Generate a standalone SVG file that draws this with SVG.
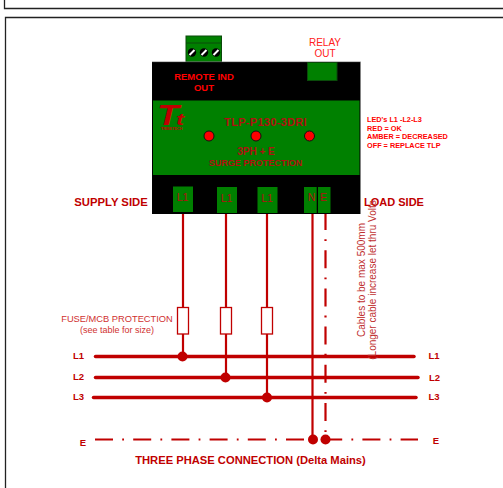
<svg xmlns="http://www.w3.org/2000/svg" width="503" height="488" viewBox="0 0 503 488">
<style>
text{font-family:"Liberation Sans",Arial,sans-serif;fill:#c00000;text-anchor:middle}
.b{font-weight:bold}
.g{fill:#008000}
.gs{fill:#008000;stroke:#0a4a0a;stroke-width:1}
.bus{stroke:#c00000;stroke-width:3.500;stroke-linecap:round;fill:none}
.w{stroke:#c00000;stroke-width:2.200;fill:none}
.dd{stroke:#c00000;stroke-width:2.200;fill:none;stroke-dasharray:18 9.200 1.800 9.200}
.fuse{fill:#fff;stroke:#c00000;stroke-width:1.300}
.dot{fill:#c00000}
.led{fill:#ff0000;stroke:#111;stroke-width:1}
.t{font-size:10.500px;fill:#b01010}
.screw{fill:#000}
</style>
<g id="frames" fill="none" stroke="#222" stroke-width="1.300">
<path d="M4.500 0V8.500H503"/>
<path d="M5.500 488V17.500H503"/>
</g>
<g id="connectors">
<path class="w" d="M183 212V356M226 213V378M267 213V397M312.500 213V439"/>
<path class="dd" d="M325.500 212V439"/>
<path class="bus" d="M95.500 356.500H414"/>
<path class="bus" d="M95.500 377.500H418"/>
<path class="bus" d="M93.500 397.500H416"/>
<path class="dd" d="M95 439.500H418"/>
</g>
<g id="relay-connector">
<rect class="gs" x="186" y="36" width="35.500" height="26"/>
<path d="M186 43H221.500" stroke="#0a4a0a" stroke-width="1"/>
<g class="screw">
<circle cx="192" cy="52.500" r="4.200"/><circle cx="204" cy="52.500" r="4.200"/><circle cx="216" cy="52.500" r="4.200"/>
</g>
<path d="M189.500 55L194.500 50M201.500 55L206.500 50M213.500 55L218.500 50" stroke="#fff" stroke-width="2"/>
</g>
<g id="device">
<rect x="152" y="62" width="208.500" height="152" fill="#000"/>
<path d="M152 61.700H360.500V214" fill="none" stroke="#888" stroke-width=".6"/>
<rect class="g" x="153" y="100.500" width="206.500" height="74.500"/>
<rect class="gs" x="307.500" y="62.500" width="29.500" height="18"/>
<text x="204" y="80" font-size="9.500" style="fill:#ff0000" class="b">REMOTE IND</text>
<text x="204" y="91" font-size="9.500" style="fill:#ff0000" class="b">OUT</text>
</g>
<g id="logo">
<text x="157" y="125" font-size="29" class="b" font-style="italic" textLength="22" lengthAdjust="spacingAndGlyphs" style="text-anchor:start">T</text>
<text x="176" y="125" font-size="17" class="b" font-style="italic" textLength="8" lengthAdjust="spacingAndGlyphs" style="text-anchor:start">t</text>
<text x="171.500" y="129.500" font-size="3.800" class="b">TRIBETECH</text>
</g>
<g id="leds">
<circle class="led" cx="209" cy="136" r="5"/><circle class="led" cx="256" cy="136" r="5"/><circle class="led" cx="309.500" cy="136" r="5"/>
</g>
<g id="device-labels">
<text x="265.500" y="126" font-size="11" class="b" style="fill:#b01010" letter-spacing=".3">TLP-P130-3DRI</text>
<text x="256" y="155" font-size="10" class="b" style="fill:#b01010">3PH + E</text>
<text x="255.500" y="166" font-size="9" class="b" style="fill:#b01010">SURGE PROTECTION</text>
</g>
<g id="terminals">
<g id="term-l1"><rect class="g" x="173" y="186.500" width="20" height="25.500"/><text class="t" x="182.500" y="201">L1</text></g>
<g id="term-l2"><rect class="g" x="217" y="187" width="20" height="26"/><text class="t" x="226.500" y="202">L1</text></g>
<g id="term-l3"><rect class="g" x="257.500" y="187" width="20" height="26"/><text class="t" x="267" y="202">L1</text></g>
<g id="term-n"><rect class="g" x="304" y="187" width="12.700" height="26"/><text class="t" x="311.500" y="201">N</text></g>
<g id="term-e"><rect class="g" x="318" y="187" width="12.500" height="26"/><text class="t" x="323.500" y="201">E</text></g>
</g>
<g id="fuses">
<rect class="fuse" x="177.500" y="307.500" width="11" height="26.500"/>
<rect class="fuse" x="220.500" y="307.500" width="11" height="26.500"/>
<rect class="fuse" x="261.500" y="307.500" width="11" height="26.500"/>
</g>
<g id="junctions">
<circle class="dot" cx="182.500" cy="356.500" r="5"/><circle class="dot" cx="225.500" cy="377.500" r="5"/><circle class="dot" cx="267" cy="397.500" r="5"/>
<circle class="dot" cx="313" cy="439.500" r="5"/><circle class="dot" cx="325.500" cy="439.500" r="5"/>
</g>
<g id="labels">
<text x="325" y="46" font-size="10" style="fill:#ff2020">RELAY</text>
<text x="325" y="57" font-size="10" style="fill:#ff2020">OUT</text>
<g font-size="7.300" class="b">
<text x="367" y="122" style="text-anchor:start;fill:#ff0000">LED's L1 -L2-L3</text>
<text x="367" y="131" style="text-anchor:start;fill:#ff0000">RED = OK</text>
<text x="367" y="139" style="text-anchor:start;fill:#ff0000">AMBER = DECREASED</text>
<text x="367" y="148" style="text-anchor:start;fill:#ff0000">OFF = REPLACE TLP</text>
</g>
<text x="111" y="206" font-size="11.300" class="b">SUPPLY SIDE</text>
<text x="394" y="206" font-size="11" class="b">LOAD SIDE</text>
<text x="117" y="322" font-size="9.300" style="fill:#d03030">FUSE/MCB PROTECTION</text>
<text x="117" y="333" font-size="9" style="fill:#d03030">(see table for size)</text>
<text transform="translate(365,280) rotate(-90)" font-size="10" style="fill:#c03030">Cables to be max 500mm</text>
<text transform="translate(375.500,280) rotate(-90)" font-size="10" style="fill:#c03030">(Longer cable increase let thru Volts</text>
<g font-size="9.500" class="b">
<text x="78.500" y="359">L1</text><text x="78.500" y="380">L2</text><text x="78.500" y="400">L3</text><text x="83" y="446">E</text>
<text x="434" y="359">L1</text><text x="434.500" y="381">L2</text><text x="434" y="400">L3</text><text x="436" y="444">E</text>
</g>
<text x="250.500" y="464" font-size="11.200" class="b">THREE PHASE CONNECTION (Delta Mains)</text>
</g>
</svg>
